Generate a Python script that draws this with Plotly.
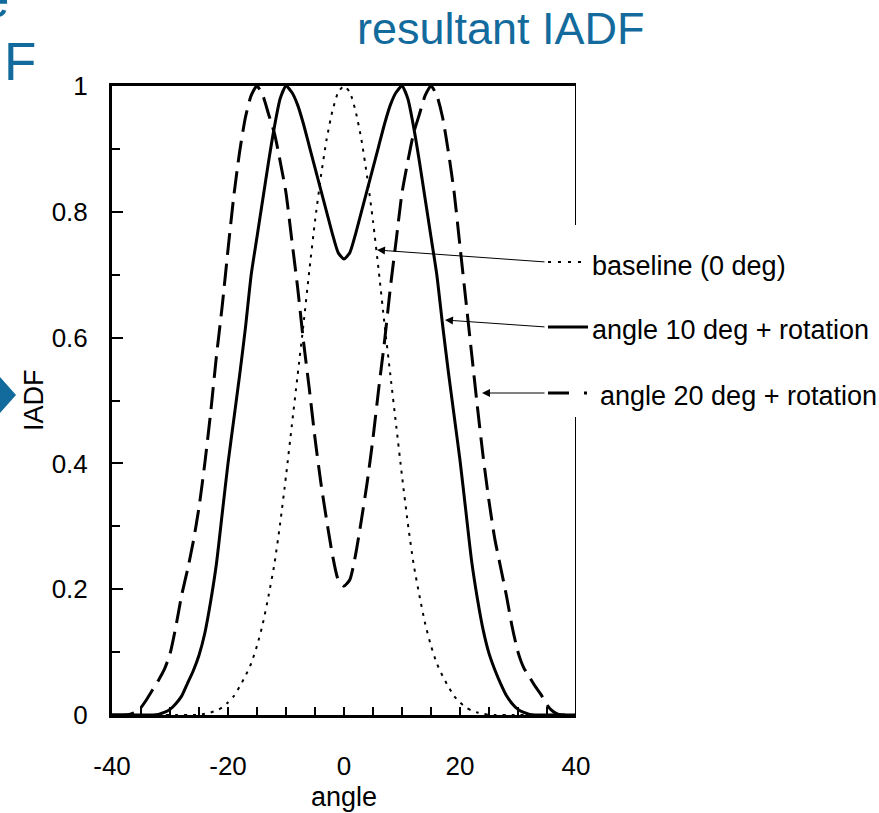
import plotly.graph_objects as go

# ---------------- data ----------------
angle = [-40, -39, -38, -37, -36, -35, -34, -33, -32, -31, -30, -29, -28, -27, -26, -25,
         -24, -23, -22, -21, -20, -19, -18, -17, -16, -15, -14, -13, -12, -11, -10, -9,
         -8, -7, -6, -5, -4, -3, -2, -1, 0, 1, 2, 3, 4, 5, 6, 7, 8, 9, 10, 11, 12, 13,
         14, 15, 16, 17, 18, 19, 20, 21, 22, 23, 24, 25, 26, 27, 28, 29, 30, 31, 32,
         33, 34, 35, 36, 37, 38, 39, 40]

baseline = [0, 0, 0, 0, 0, 0, 0, 0, 0, 0, 0, 0, 0, 0, 0, 0,
            0.002, 0.004, 0.007, 0.012, 0.02, 0.03, 0.045, 0.062, 0.082, 0.11, 0.145, 0.19,
            0.24, 0.305, 0.38, 0.46, 0.54, 0.62, 0.705, 0.785, 0.855, 0.915, 0.96, 0.99,
            1.0,
            0.99, 0.96, 0.915, 0.855, 0.785, 0.705, 0.62, 0.54, 0.46, 0.38, 0.305, 0.24,
            0.19, 0.145, 0.11, 0.082, 0.062, 0.045, 0.03, 0.02, 0.012, 0.007, 0.004, 0.002,
            0, 0, 0, 0, 0, 0, 0, 0, 0, 0, 0, 0, 0, 0, 0, 0]

angle10 = [0, 0, 0, 0, 0, 0, 0, 0,
           0.001, 0.004, 0.009, 0.018, 0.03, 0.05, 0.07, 0.095, 0.13, 0.18, 0.24, 0.32,
           0.40, 0.47, 0.54, 0.615, 0.70, 0.76, 0.82, 0.88, 0.935, 0.98, 1.0, 0.99,
           0.97, 0.94, 0.905, 0.87, 0.835, 0.80, 0.765, 0.735,
           0.725,
           0.735, 0.765, 0.80, 0.835, 0.87, 0.905, 0.94, 0.97, 0.99, 1.0, 0.98, 0.935,
           0.88, 0.82, 0.76, 0.70, 0.62, 0.545, 0.475, 0.405, 0.325, 0.245, 0.185, 0.135,
           0.098, 0.072, 0.05, 0.031, 0.018, 0.009, 0.004, 0.001,
           0, 0, 0, 0, 0, 0, 0, 0]

angle20 = [0, 0, 0, 0.001, 0.004, 0.012, 0.025, 0.04, 0.055, 0.072, 0.097, 0.14,
           0.19, 0.23, 0.275, 0.33, 0.40, 0.48, 0.57, 0.65, 0.74, 0.825, 0.895, 0.95,
           0.985, 1.0, 0.985, 0.955, 0.925, 0.88, 0.83, 0.755, 0.68, 0.595, 0.52, 0.44,
           0.37, 0.31, 0.255, 0.215,
           0.205,
           0.215, 0.255, 0.31, 0.37, 0.44, 0.52, 0.595, 0.68, 0.755, 0.83, 0.88, 0.925,
           0.955, 0.985, 1.0, 0.985, 0.95, 0.895, 0.83, 0.745, 0.66, 0.575, 0.49, 0.41,
           0.34, 0.28, 0.235, 0.19, 0.14, 0.10, 0.075, 0.06, 0.045, 0.032, 0.016, 0.006,
           0.001, 0, 0, 0]

x_ticks = [-40, -20, 0, 20, 40]
x_ticktext = ["-40", "-20", "0", "20", "40"]
y_ticks = [0, 0.2, 0.4, 0.6, 0.8, 1]
y_ticktext = ["0", "0.2", "0.4", "0.6", "0.8", "1"]

legend_names = ["baseline (0 deg)", "angle 10 deg + rotation", "angle 20 deg + rotation"]

# ---------------- layout helpers (pixel -> paper) ----------------
L, R, T, B = 112, 576, 86, 715
W, H = 879, 813


def px(xp):
    return (xp - L) / (R - L)


def py(yp):
    return (B - yp) / (B - T)


FONT = "Liberation Sans, Arial, sans-serif"
BLUE = "#136a9c"

fig = go.Figure()
fig.add_trace(go.Scatter(x=angle, y=baseline, mode="lines", name=legend_names[0],
                         line=dict(color="black", width=2, dash="3px,6px", shape="spline", smoothing=0.6)))
fig.add_trace(go.Scatter(x=angle, y=angle10, mode="lines", name=legend_names[1],
                         line=dict(color="black", width=3, shape="spline", smoothing=0.6)))
fig.add_trace(go.Scatter(x=angle, y=angle20, mode="lines", name=legend_names[2],
                         line=dict(color="black", width=3, dash="22px,9px", shape="spline", smoothing=0.6)))

shapes = []
# right border (interrupted by the legend texts)
shapes.append(dict(type="line", xref="x", yref="y", x0=40, x1=40, y0=1, y1=py(225),
                   line=dict(color="black", width=2)))
shapes.append(dict(type="line", xref="x", yref="y", x0=40, x1=40, y0=py(417), y1=0,
                   line=dict(color="black", width=2)))
# legend samples
shapes.append(dict(type="line", xref="paper", yref="paper", x0=px(548), x1=px(582),
                   y0=py(262), y1=py(262), line=dict(color="black", width=2, dash="3px,7px")))
shapes.append(dict(type="line", xref="paper", yref="paper", x0=px(548), x1=px(588),
                   y0=py(327), y1=py(327), line=dict(color="black", width=3)))
shapes.append(dict(type="line", xref="paper", yref="paper", x0=px(548), x1=px(590),
                   y0=py(393), y1=py(393), line=dict(color="black", width=3, dash="21px,15px,3px")))
# blue diamond at the left edge
dy0 = py(395)
shapes.append(dict(type="path", xref="paper", yref="paper",
                   path=f"M {px(-16)} {dy0} L {px(0)} {py(377)} L {px(16)} {dy0} L {px(0)} {py(413)} Z",
                   fillcolor=BLUE, line=dict(width=0)))

annotations = []
# legend arrows (tail at legend sample, head on curve); offsets in pixels
arrows = [((377, 250), (546, 262)), ((445, 320), (546, 327)), ((482, 393), (546, 393))]
for (hx, hy), (tx, ty) in arrows:
    annotations.append(dict(x=px(hx), y=py(hy), xref="paper", yref="paper",
                            ax=tx - hx, ay=ty - hy, axref="pixel", ayref="pixel",
                            text="", showarrow=True, arrowhead=2, arrowsize=1.6,
                            arrowwidth=1, arrowcolor="black"))
# legend texts
for name, xp, yp in zip(legend_names, [590, 590, 598], [266, 330, 396]):
    annotations.append(dict(x=px(xp), y=py(yp), xref="paper", yref="paper", text=name,
                            showarrow=False, xanchor="left", yanchor="middle",
                            font=dict(family=FONT, size=27, color="black")))
# title
annotations.append(dict(x=px(501), y=py(28), xref="paper", yref="paper", text="resultant IADF",
                        showarrow=False, xanchor="center", yanchor="middle",
                        font=dict(family=FONT, size=45, color=BLUE)))
# partial slide texts at top-left
annotations.append(dict(x=px(11), y=py(30), xref="paper", yref="paper", text="e",
                        showarrow=False, xanchor="right", yanchor="bottom",
                        font=dict(family=FONT, size=53, color=BLUE)))
annotations.append(dict(x=px(2), y=py(62), xref="paper", yref="paper", text="F",
                        showarrow=False, xanchor="left", yanchor="middle",
                        font=dict(family=FONT, size=53, color=BLUE)))
# axis titles
annotations.append(dict(x=px(344), y=py(797), xref="paper", yref="paper", text="angle",
                        showarrow=False, xanchor="center", yanchor="middle",
                        font=dict(family=FONT, size=27, color="black")))
annotations.append(dict(x=px(34), y=py(400), xref="paper", yref="paper", text="IADF",
                        showarrow=False, xanchor="center", yanchor="middle", textangle=-90,
                        font=dict(family=FONT, size=27, color="black")))

fig.update_layout(
    width=W, height=H,
    margin=dict(l=L, r=W - R, t=T, b=H - B, pad=0),
    paper_bgcolor="white", plot_bgcolor="white",
    showlegend=False,
    shapes=shapes, annotations=annotations,
    xaxis=dict(range=[-40, 40], tickvals=x_ticks, ticktext=x_ticktext, ticks="inside", ticklen=8,
               tickwidth=2, tickcolor="black", showline=True, linecolor="black", linewidth=3,
               mirror=True, showgrid=False, zeroline=False, ticklabelstandoff=26,
               minor=dict(dtick=5, ticks="inside", ticklen=8, tickwidth=2, tickcolor="black", showgrid=False),
               tickfont=dict(family=FONT, size=26, color="black")),
    yaxis=dict(range=[0, 1], tickvals=y_ticks, ticktext=y_ticktext, ticks="inside", ticklen=11,
               tickwidth=2, tickcolor="black", showline=True, linecolor="black", linewidth=3,
               showgrid=False, zeroline=False, ticklabelstandoff=16,
               minor=dict(dtick=0.1, ticks="inside", ticklen=8, tickwidth=2, tickcolor="black", showgrid=False),
               tickfont=dict(family=FONT, size=26, color="black")),
)

fig.write_html("out.html", config={"displayModeBar": False},
               post_script="document.body.style.margin='0px';")
